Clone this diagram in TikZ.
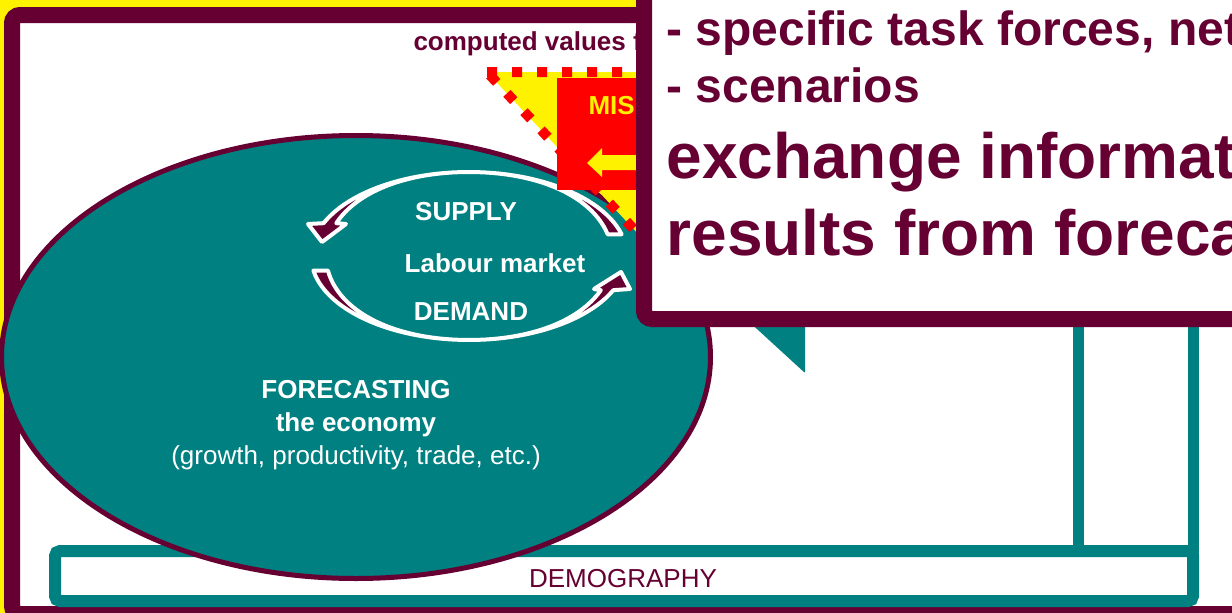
\documentclass[tikz,border=0pt]{standalone}
\usepackage{fontspec}
\setmainfont{Liberation Sans}
\definecolor{wine}{HTML}{660033}
\definecolor{sea}{HTML}{008080}
\newcommand{\fsz}[1]{\fontsize{#1}{#1}\selectfont}

\begin{document}
\begin{tikzpicture}[x=1pt, y=-1pt,
  lbl/.style={text=white, font=\bfseries\fsz{26}},
  cyc/.style={draw=white, fill=wine, line width=4pt, line join=round},
  big/.style={anchor=base west, text=wine, font=\bfseries\fsz{64}},
  mid/.style={anchor=base west, text=wine, font=\bfseries\fsz{48}}]
\useasboundingbox (0,0) rectangle (1232,613);
\clip (0,0) rectangle (1232,613);
\fill[yellow] (0,0) rectangle (1232,613);

% outer frame
\draw[wine, line width=16pt, fill=white, rounded corners=8pt] (12,15) rectangle (1252,614);
\node[anchor=base west, text=wine, font=\bfseries\fsz{26}] (comp) at (410,50) {computed values for};

% demography bar and the box above it
\draw[sea, line width=11pt] (1078,300) rectangle (1193,551);
\draw[sea, line width=12pt, fill=white, rounded corners=5pt] (55,551) rectangle (1193,601);
\node[anchor=base, text=wine, font=\fsz{26}] (demo) at (623,587) {DEMOGRAPHY};

% the economy
\draw[wine, line width=5pt, fill=sea] (356,357) ellipse [x radius=354.5, y radius=221.5];
\node[lbl, anchor=base] (fcast) at (356,398) {FORECASTING};
\node[lbl, anchor=base] (econ) at (356,431) {the economy};
\node[anchor=base, text=white, font=\fsz{26}] (expl) at (356,464) {(growth, productivity, trade, etc.)};

% labour market cycle
\filldraw[cyc] plot[domain=-15:-157, samples=50] ({469+158*cos(\x)}, {256+84*sin(\x)})
  -- (308,224) -- (322,242) -- (346,224)
  -- plot[domain=-157:-15, samples=50] ({469+158*cos(\x)-15*cos(\x)*abs(cos(\x))}, {256+84*sin(\x)})
  -- cycle;
\filldraw[cyc] plot[domain=170:24, samples=50] ({469+158*cos(\x)}, {256+84*sin(\x)})
  -- (630,289) -- (621,272) -- (594,289)
  -- plot[domain=24:170, samples=50] ({469+158*cos(\x)-15*cos(\x)*abs(cos(\x))}, {256+84*sin(\x)})
  -- cycle;
\node[lbl, anchor=base] (supply) at (466,220) {SUPPLY};
\node[lbl, anchor=base] (market) at (495,272) {Labour market};
\node[lbl, anchor=base] (demand) at (471,320) {DEMAND};

% dotted triangle and red box
\draw[red, line width=10pt, dash pattern=on 10pt off 15pt, fill=yellow] (487,72) -- (797,72) -- (642,238) -- cycle;
\fill[red] (557,78) rectangle (660,190);
\node[anchor=base west, text=yellow, font=\bfseries\fsz{26}] (mis) at (585,114) {MIS};
\fill[yellow] (587,163) -- (602,148) -- (602,155) -- (660,155) -- (660,170) -- (602,170) -- (602,177) -- cycle;

% callout
\fill[sea, rounded corners=1pt] (745,318) -- (805,318) -- (805,373) -- cycle;
\draw[wine, line width=16pt, fill=white, rounded corners=8pt] (644,-40) rectangle (1290,319);
\node[mid] (tasks) at (663,45) {- specific task forces, networks};
\node[mid] (scen) at (663,102) {- scenarios};
\node[big] (xchg) at (663,178) {exchange information};
\node[big] (res) at (663,255) {results from forecasting};
\end{tikzpicture}
\end{document}
